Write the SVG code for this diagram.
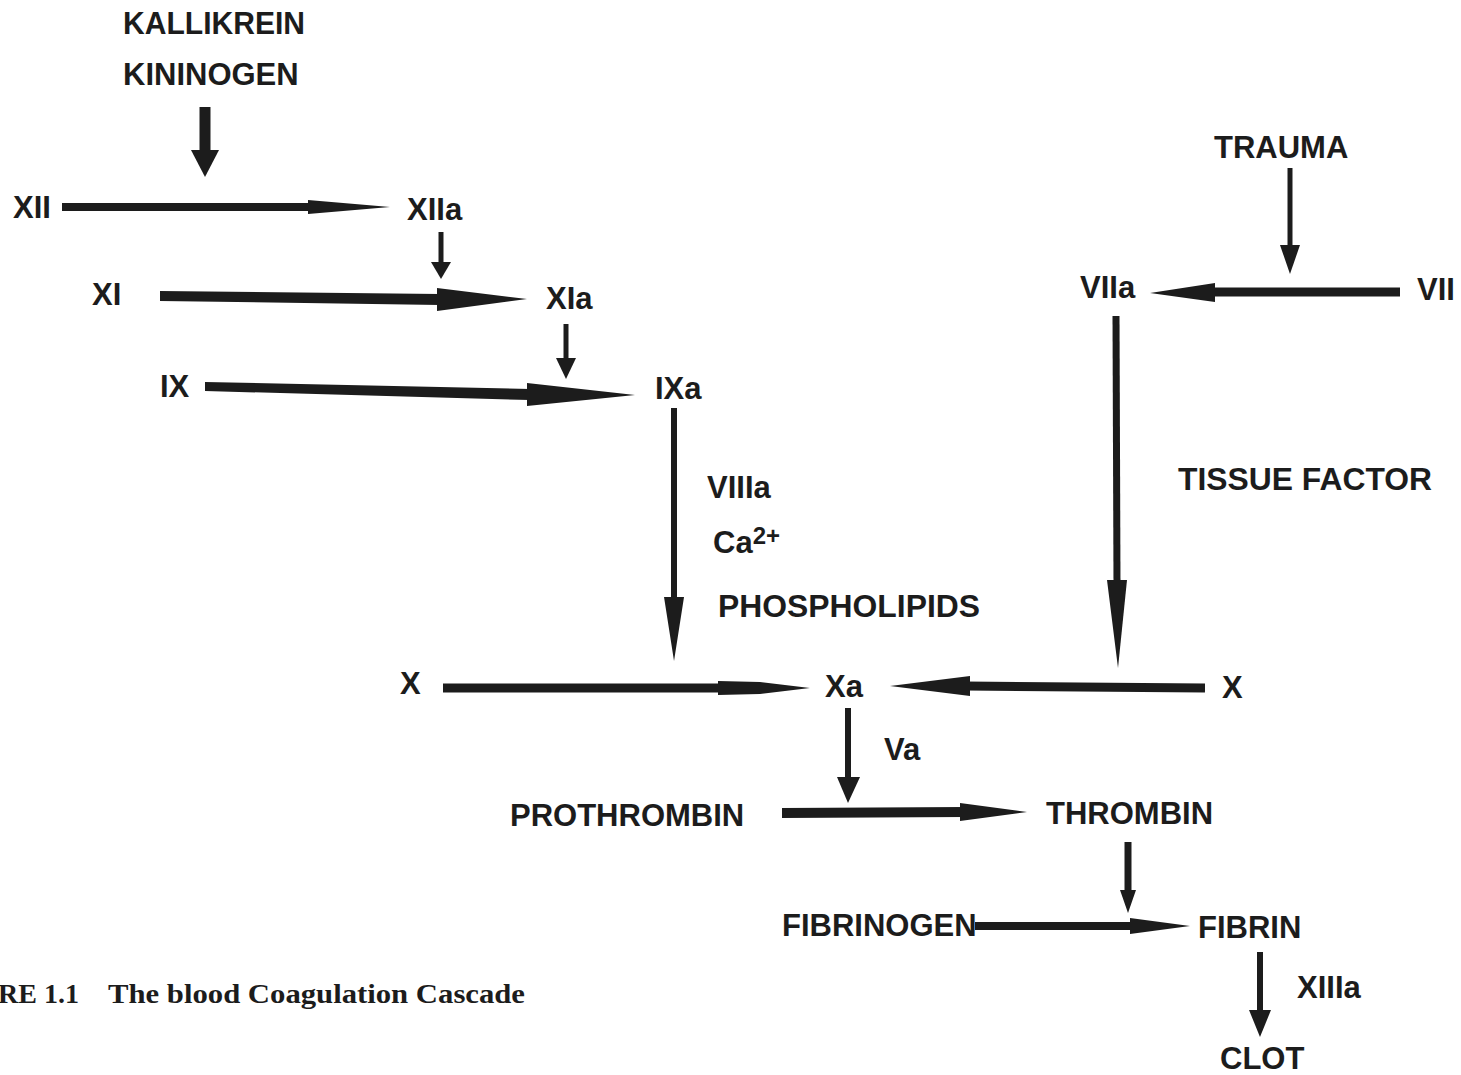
<svg xmlns="http://www.w3.org/2000/svg" width="1461" height="1075" viewBox="0 0 1461 1075">
<style>
text{font-family:"Liberation Sans",Arial,sans-serif;font-weight:bold;font-size:31px;fill:#1c1c1c}
.cap{font-family:"Liberation Serif","Times New Roman",serif;font-weight:bold;font-size:28px}
.s{fill:none;stroke:#1c1c1c}
.h{fill:#1c1c1c}
</style>
<rect width="1461" height="1075" fill="#fff"/>
<g id="kallikrein"><text x="123" y="34" textLength="182" lengthAdjust="spacingAndGlyphs">KALLIKREIN</text></g>
<g id="kininogen"><text x="123" y="85">KININOGEN</text></g>
<g id="XII"><text x="13" y="218">XII</text></g>
<g id="XIIa"><text x="407" y="220">XIIa</text></g>
<g id="XI"><text x="92" y="305">XI</text></g>
<g id="XIa"><text x="546" y="309">XIa</text></g>
<g id="IX"><text x="160" y="397">IX</text></g>
<g id="IXa"><text x="655" y="399">IXa</text></g>
<g id="cofactors">
<text x="707" y="498">VIIIa</text>
<text x="713" y="553">Ca<tspan dy="-9" font-size="24">2+</tspan></text>
<text x="718" y="617" textLength="262" lengthAdjust="spacingAndGlyphs">PHOSPHOLIPIDS</text>
</g>
<g id="X-left"><text x="400" y="694">X</text></g>
<g id="Xa"><text x="825" y="697">Xa</text></g>
<g id="X-right"><text x="1222" y="698">X</text></g>
<g id="trauma"><text x="1214" y="158">TRAUMA</text></g>
<g id="VIIa"><text x="1080" y="298">VIIa</text></g>
<g id="VII"><text x="1417" y="300">VII</text></g>
<g id="tissue-factor"><text x="1178" y="490" textLength="254" lengthAdjust="spacingAndGlyphs">TISSUE FACTOR</text></g>
<g id="Va"><text x="884" y="760">Va</text></g>
<g id="prothrombin"><text x="510" y="826">PROTHROMBIN</text></g>
<g id="thrombin"><text x="1046" y="824">THROMBIN</text></g>
<g id="fibrinogen"><text x="782" y="936">FIBRINOGEN</text></g>
<g id="fibrin"><text x="1198" y="938">FIBRIN</text></g>
<g id="XIIIa"><text x="1297" y="998">XIIIa</text></g>
<g id="clot"><text x="1220" y="1069">CLOT</text></g>
<g id="caption"><text class="cap" x="-2" y="1003">RE 1.1</text><text class="cap" x="108" y="1003" textLength="417" lengthAdjust="spacingAndGlyphs">The blood Coagulation Cascade</text></g>

<g id="connectors">
<line class="s" x1="205" y1="107" x2="205" y2="152" stroke-width="11"/>
<polygon class="h" points="191,150 219,150 205,177"/>
<line class="s" x1="62" y1="207" x2="320" y2="207" stroke-width="8"/>
<polygon class="h" points="308,200 390,207 308,214"/>
<line class="s" x1="441" y1="232" x2="441" y2="264" stroke-width="5"/>
<polygon class="h" points="431,262 451,262 441,279"/>
<polygon class="h" points="160,291 440,294 440,305 160,301"/>
<polygon class="h" points="437,288 527,299 437,311"/>
<line class="s" x1="566" y1="324" x2="566" y2="360" stroke-width="5"/>
<polygon class="h" points="556,358 576,358 566,379"/>
<polygon class="h" points="205,382 530,389 530,400 205,391"/>
<polygon class="h" points="527,383 635,395 527,406"/>
<line class="s" x1="674" y1="408" x2="674" y2="600" stroke-width="6"/>
<polygon class="h" points="664,597 684,597 674,661"/>
<line class="s" x1="443" y1="688" x2="725" y2="688" stroke-width="9"/>
<polygon class="h" points="718,681 760,682 810,688 760,694 718,695"/>
<line class="s" x1="1205" y1="688" x2="965" y2="686" stroke-width="9"/>
<polygon class="h" points="970,676 890,686 970,696"/>
<line class="s" x1="1290" y1="168" x2="1290" y2="248" stroke-width="5"/>
<polygon class="h" points="1280,245 1300,245 1290,274"/>
<line class="s" x1="1400" y1="292" x2="1210" y2="292" stroke-width="9"/>
<polygon class="h" points="1215,283 1150,293 1215,302"/>
<line class="s" x1="1116" y1="316" x2="1117" y2="585" stroke-width="7"/>
<polygon class="h" points="1107,580 1127,580 1118,668"/>
<line class="s" x1="848" y1="708" x2="848" y2="780" stroke-width="6"/>
<polygon class="h" points="837,777 860,777 848,803"/>
<line class="s" x1="782" y1="813" x2="965" y2="812" stroke-width="10"/>
<polygon class="h" points="960,803 1027,812 960,821"/>
<line class="s" x1="1128" y1="842" x2="1128" y2="893" stroke-width="7"/>
<polygon class="h" points="1120,890 1136,890 1128,913"/>
<line class="s" x1="975" y1="926" x2="1135" y2="926" stroke-width="8"/>
<polygon class="h" points="1130,918 1190,926 1130,934"/>
<line class="s" x1="1260" y1="952" x2="1260" y2="1013" stroke-width="6"/>
<polygon class="h" points="1249,1010 1271,1010 1260,1037"/>
</g>
</svg>
